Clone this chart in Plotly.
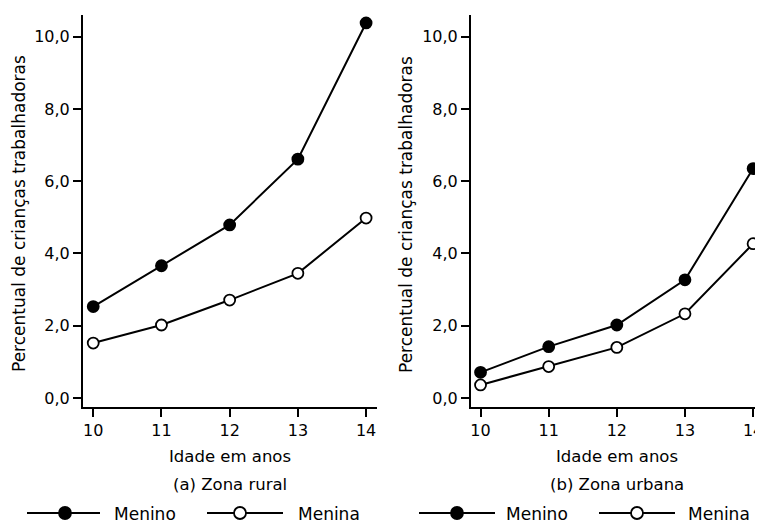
import plotly.graph_objects as go

idades = [10, 11, 12, 13, 14]
rural_menino = [2.53, 3.66, 4.79, 6.61, 10.38]
rural_menina = [1.52, 2.02, 2.71, 3.45, 4.98]
urbana_menino = [0.71, 1.42, 2.02, 3.27, 6.35]
urbana_menina = [0.36, 0.87, 1.40, 2.33, 4.27]
y_ticks = [0, 2, 4, 6, 8, 10]
x_titulo = "Idade em anos"
y_titulo = "Percentual de crianças trabalhadoras"
paineis = ["(a) Zona rural", "(b) Zona urbana"]
series = ["Menino", "Menina"]

W, H = 763, 521
OFF = 8  # page body offset
FONT = "DejaVu Sans"

fig = go.Figure()

def add_series(xa, ya, vals, filled, name):
    fig.add_trace(go.Scatter(
        x=idades, y=vals, mode="lines+markers", name=name, xaxis=xa, yaxis=ya,
        line=dict(color="black", width=2),
        marker=dict(size=11, color="black" if filled else "white",
                    line=dict(color="black", width=1.8)),
        showlegend=False, cliponaxis=False))

add_series("x", "y", rural_menino, True, series[0])
add_series("x", "y", rural_menina, False, series[1])
add_series("x2", "y2", urbana_menino, True, series[0])
add_series("x2", "y2", urbana_menina, False, series[1])

axis_common = dict(showline=True, linecolor="black", linewidth=2, ticks="outside",
                   ticklen=8, tickwidth=2, tickcolor="black", showgrid=False,
                   zeroline=False, automargin=False,
                   tickfont=dict(family=FONT, size=16, color="black"))

def px(x):
    return (x - OFF) / W

def py(y):
    return 1 - (y - OFF) / H

ydom = [py(407), py(15)]

fig.update_layout(
    width=W, height=H, autosize=False,
    margin=dict(l=0, r=0, t=0, b=0, pad=0),
    paper_bgcolor="white", plot_bgcolor="white",
    separators=",.",
    xaxis=dict(domain=[px(83), px(377)], range=[9.85, 14.16], tickvals=idades, anchor="y", **axis_common),
    yaxis=dict(domain=ydom, range=[-0.25, 10.6], tickvals=y_ticks, tickformat=".1f", anchor="x", **axis_common),
    xaxis2=dict(domain=[px(471), px(764)], range=[9.86, 14.16], tickvals=idades, anchor="y2", **axis_common),
    yaxis2=dict(domain=ydom, range=[-0.25, 10.6], tickvals=y_ticks, tickformat=".1f", anchor="x2", **axis_common),
)

def text(x, y, s, size=15, angle=0, xanchor="center"):
    fig.add_annotation(x=px(x), y=py(y), xref="paper", yref="paper", text=s,
                       showarrow=False, textangle=angle, xanchor=xanchor, yanchor="middle",
                       font=dict(family=FONT, size=size, color="black"))

for cx, pan, ytx in [(230, paineis[0], 19), (617, paineis[1], 406)]:
    text(cx, 456, x_titulo, 16.5)
    text(cx, 484, pan, 16.5)
    text(ytx, 214, y_titulo, 17, angle=-90)

def legend_item(x0, x1, mx, tx, filled, label):
    y = 513
    fig.add_shape(type="line", xref="paper", yref="paper", x0=px(x0), x1=px(x1),
                  y0=py(y), y1=py(y), line=dict(color="black", width=2))
    fig.add_shape(type="circle", xref="paper", yref="paper", xsizemode="pixel", ysizemode="pixel",
                  xanchor=px(mx), yanchor=py(y), x0=-6, x1=6, y0=-6, y1=6,
                  fillcolor="black" if filled else "white", line=dict(color="black", width=1.8))
    text(tx, y + 1, label, 17, xanchor="left")

legend_item(27, 100, 65, 112, True, series[0])
legend_item(207, 283, 240, 296, False, series[1])
legend_item(419, 495, 457, 504, True, series[0])
legend_item(599, 675, 637, 686, False, series[1])

fig.write_html("out.html")
